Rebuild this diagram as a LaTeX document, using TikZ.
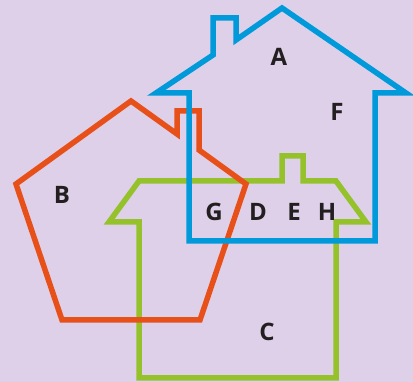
\documentclass[tikz,border=0pt]{standalone}
\usepackage{fontspec}
\setmainfont{Open Sans}
\usepackage{tikz}

\definecolor{bgcol}{RGB}{221,208,232}
\definecolor{houseblue}{RGB}{0,154,219}
\definecolor{houseorange}{RGB}{232,80,26}
\definecolor{housegreen}{RGB}{149,193,43}
\definecolor{labelcol}{RGB}{35,31,32}

\begin{document}
\begin{tikzpicture}[x=1pt, y=-1pt, line width=5.5pt, line join=miter,
    region/.style={text=labelcol, font=\fontsize{24}{24}\selectfont\bfseries}]
    % Background
    \fill[bgcol] (0,0) rectangle (413,382);
    \useasboundingbox (0,0) rectangle (413,382);

    % Green house (bottom layer)
    \draw[housegreen] (139,181) -- (282,181) -- (282,156) -- (303,156) -- (303,181)
        -- (336,181) -- (366,222) -- (336,222) -- (336,378) -- (139,378)
        -- (139,222) -- (109,222) -- cycle;

    % Orange pentagon with chimney
    \draw[houseorange] (131,101) -- (177,134) -- (177,111) -- (199,111) -- (199,150)
        -- (246,184) -- (200,320) -- (62,320) -- (16,184) -- cycle;

    % Blue house (top layer)
    \draw[houseblue] (189,241) -- (189,93) -- (156,93) -- (213,55) -- (213,18)
        -- (236,18) -- (236,40) -- (282,8) -- (406,93) -- (375,93)
        -- (375,241) -- cycle;

    % Region labels
    \node[region] (A) at (279,57) {A};
    \node[region] (F) at (337,112) {F};
    \node[region] (B) at (62,195) {B};
    \node[region] (C) at (267,332) {C};
    \node[region] (G) at (214,212) {G};
    \node[region] (D) at (258,212) {D};
    \node[region] (E) at (294,212) {E};
    \node[region] (H) at (327,212) {H};
\end{tikzpicture}
\end{document}
